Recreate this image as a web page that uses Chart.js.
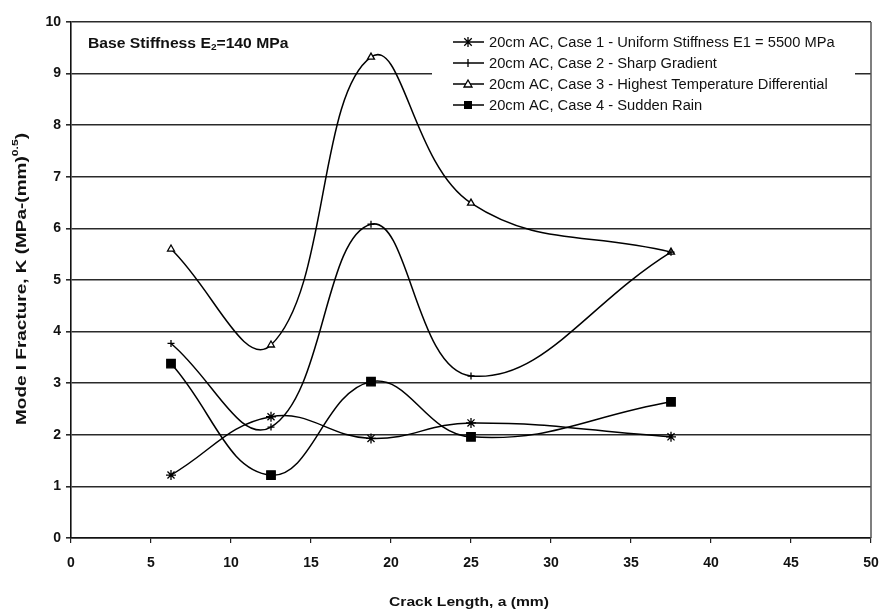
<!DOCTYPE html>
<html lang="en">
<head>
<meta charset="UTF-8">
<title>Mode I Fracture vs Crack Length</title>
<script src="https://cdn.jsdelivr.net/npm/chart.js"></script>
<style>
  html, body { margin: 0; padding: 0; background: #fff; }
  #wrap { width: 883px; height: 612px; }
</style>
</head>
<body>
<div id="wrap"><canvas id="chart"></canvas></div>
<script>
// data
const crackLength = [6.25, 12.5, 18.75, 25, 37.5];
const case1 = [1.22, 2.35, 1.93, 2.23, 1.96];
const case2 = [3.77, 2.15, 6.08, 3.14, 5.54];
const case3 = [5.60, 3.74, 9.32, 6.49, 5.54];
const case4 = [3.38, 1.22, 3.03, 1.96, 2.64];
const seriesNames = [
    "20cm AC, Case 1 - Uniform Stiffness E1 = 5500 MPa",
    "20cm AC, Case 2 - Sharp Gradient",
    "20cm AC, Case 3 - Highest Temperature Differential",
    "20cm AC, Case 4 - Sudden Rain"
];
const xTicks = [0, 5, 10, 15, 20, 25, 30, 35, 40, 45, 50];
const yTicks = [0, 1, 2, 3, 4, 5, 6, 7, 8, 9, 10];

const FONT = "'Liberation Sans', Arial, sans-serif";

function points(ys) {
    return crackLength.map((x, i) => ({ x: x, y: ys[i] }));
}

const styles = [
    { pointStyle: "star", radius: 5, bg: "#000" },
    { pointStyle: "cross", radius: 3.5, bg: "#000" },
    { pointStyle: "triangle", radius: 4, bg: "#fff" },
    { pointStyle: "rect", radius: 6, bg: "#000" }
];

const datasets = [case1, case2, case3, case4].map((ys, i) => ({
    label: seriesNames[i],
    data: points(ys),
    borderColor: "#000",
    borderWidth: 1.5,
    tension: 0.42,
    pointStyle: styles[i].pointStyle,
    pointRadius: styles[i].radius,
    pointBackgroundColor: styles[i].bg,
    pointBorderColor: "#000",
    pointBorderWidth: 1.3
}));

// small marker drawer for the legend
function drawMarker(ctx, style, x, y) {
    ctx.save();
    ctx.strokeStyle = "#000";
    ctx.fillStyle = "#000";
    ctx.lineWidth = 1.3;
    ctx.beginPath();
    if (style === "star") {
        const r = 5;
        ctx.moveTo(x, y - r); ctx.lineTo(x, y + r);
        const d = r * 0.75;
        ctx.moveTo(x - d, y - d); ctx.lineTo(x + d, y + d);
        ctx.moveTo(x - d, y + d); ctx.lineTo(x + d, y - d);
        ctx.stroke();
    } else if (style === "cross") {
        ctx.moveTo(x, y - 4); ctx.lineTo(x, y + 4);
        ctx.stroke();
    } else if (style === "triangle") {
        ctx.moveTo(x, y - 4); ctx.lineTo(x + 4, y + 3); ctx.lineTo(x - 4, y + 3);
        ctx.closePath();
        ctx.fillStyle = "#fff";
        ctx.fill();
        ctx.stroke();
    } else if (style === "rect") {
        ctx.fillRect(x - 4, y - 4, 8, 8);
    }
    ctx.restore();
}

// draw a text stretched to a target width
function fitText(ctx, text, x, y, width) {
    const w = ctx.measureText(text).width;
    ctx.save();
    ctx.translate(x, y);
    ctx.scale(width / w, 1);
    ctx.fillText(text, 0, 0);
    ctx.restore();
}

const decorations = {
    id: "decorations",
    afterDraw(chart) {
        const ctx = chart.ctx;
        const area = chart.chartArea;
        ctx.save();

        // frame on the right
        ctx.strokeStyle = "#555";
        ctx.lineWidth = 1.5;
        ctx.beginPath();
        ctx.moveTo(area.right, area.top);
        ctx.lineTo(area.right, area.bottom);
        ctx.stroke();

        // legend box (white, hides the grid line behind it)
        ctx.fillStyle = "#fff";
        ctx.fillRect(432, 30, 423, 88);
        const rows = [42, 63, 84, 105];
        ctx.font = "14px " + FONT;
        ctx.textBaseline = "middle";
        ctx.textAlign = "left";
        rows.forEach((y, i) => {
            ctx.strokeStyle = "#000";
            ctx.lineWidth = 1.5;
            ctx.beginPath();
            ctx.moveTo(453, y);
            ctx.lineTo(484, y);
            ctx.stroke();
            drawMarker(ctx, styles[i].pointStyle, 468, y);
            ctx.fillStyle = "#111";
            const w = ctx.measureText(seriesNames[i]).width;
            fitText(ctx, seriesNames[i], 489, y + 1, w * 1.05);
        });

        // annotation
        ctx.fillStyle = "#111";
        ctx.save();
        ctx.translate(88, 44);
        ctx.scale(1.12, 1);
        ctx.font = "bold 14px " + FONT;
        let tx = 0;
        ctx.fillText("Base Stiffness E", tx, 0);
        tx += ctx.measureText("Base Stiffness E").width;
        ctx.font = "bold 9px " + FONT;
        ctx.fillText("2", tx, 4);
        tx += ctx.measureText("2").width;
        ctx.font = "bold 14px " + FONT;
        ctx.fillText("=140 MPa", tx, 0);
        ctx.restore();

        // x axis title
        ctx.font = "bold 12.5px " + FONT;
        ctx.textAlign = "left";
        fitText(ctx, "Crack Length, a (mm)", 389, 603, 160);

        // y axis title with superscript, stretched along its length
        ctx.translate(22, 279);
        ctx.rotate(-Math.PI / 2);
        const main = "Mode I Fracture, K (MPa-(mm)";
        const sup = "0.5";
        const end = ")";
        ctx.font = "bold 14px " + FONT;
        const wMain = ctx.measureText(main).width;
        const wEnd = ctx.measureText(end).width;
        ctx.font = "bold 9px " + FONT;
        const wSup = ctx.measureText(sup).width;
        const total = wMain + wSup + wEnd;
        const k = 292 / total;
        ctx.scale(k, 1);
        let sx = -total / 2;
        ctx.font = "bold 14px " + FONT;
        ctx.fillText(main, sx, 0);
        sx += wMain;
        ctx.font = "bold 9px " + FONT;
        ctx.fillText(sup, sx, -6);
        sx += wSup;
        ctx.font = "bold 14px " + FONT;
        ctx.fillText(end, sx, 0);

        ctx.restore();
    }
};

new Chart(document.getElementById("chart"), {
    type: "line",
    data: { datasets: datasets },
    options: {
        responsive: true,
        maintainAspectRatio: false,
        animation: false,
        layout: { padding: { top: 22, right: 12, left: 0, bottom: 0 } },
        plugins: {
            legend: { display: false },
            tooltip: { enabled: false }
        },
        scales: {
            x: {
                type: "linear",
                min: 0,
                max: 50,
                afterBuildTicks: axis => { axis.ticks = xTicks.map(v => ({ value: v })); },
                afterFit: axis => {
                    axis.height = 74;
                    axis.paddingLeft = 0;
                    axis.paddingRight = 0;
                },
                grid: { display: true, drawOnChartArea: false, drawTicks: true, tickLength: 5, color: "#222", lineWidth: 1.2 },
                border: { display: true, color: "#111", width: 1.5 },
                ticks: { color: "#111", font: { family: FONT, size: 14, weight: "bold" }, padding: 12, maxRotation: 0 },
                title: { display: false }
            },
            y: {
                type: "linear",
                min: 0,
                max: 10,
                afterBuildTicks: axis => { axis.ticks = yTicks.map(v => ({ value: v })); },
                afterFit: axis => { axis.width = 71; },
                grid: { color: "#2a2a2a", lineWidth: 1.6, drawTicks: true, tickLength: 5 },
                border: { display: true, color: "#111", width: 1.6 },
                ticks: { color: "#111", font: { family: FONT, size: 14, weight: "bold" }, padding: 5 },
                title: { display: false }
            }
        }
    },
    plugins: [decorations]
});
</script>
</body>
</html>
